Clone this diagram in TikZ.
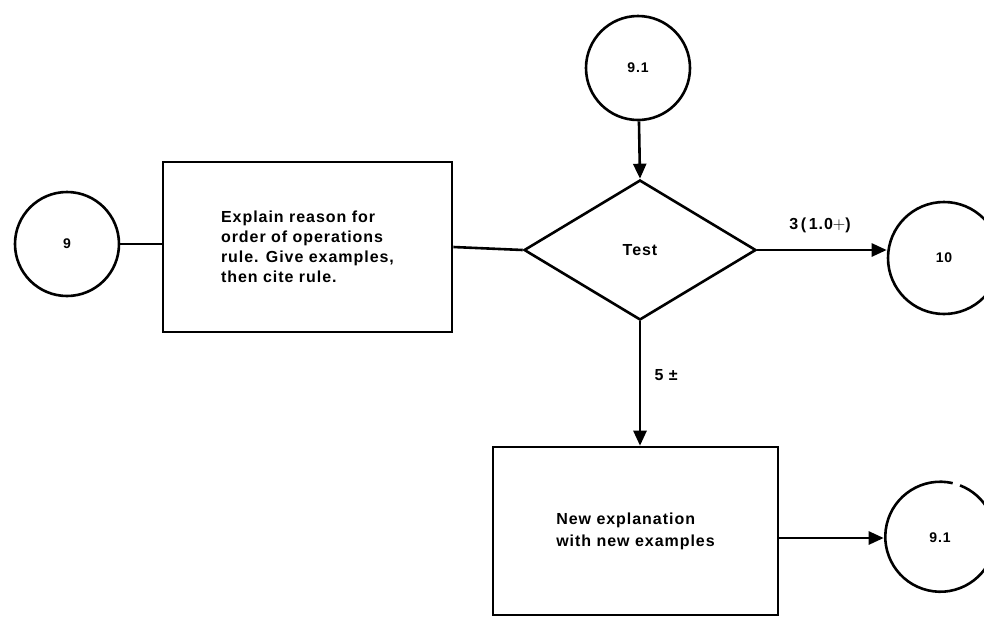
\documentclass[tikz,border=0pt]{standalone}
\usepackage{fontspec}
\setmainfont{Liberation Sans}[LetterSpace=6]
\usetikzlibrary{arrows.meta,shapes.geometric}
\begin{document}
\begin{tikzpicture}[x=1pt,y=-1pt,
  line width=2.6pt,
  txt/.style={font=\bfseries\fontsize{16}{20}\selectfont},
  conn/.style={draw,circle,inner sep=0pt,font=\bfseries\fontsize{14}{16}\selectfont},
  stepbox/.style={draw,rectangle,inner sep=0pt,align=left,font=\bfseries\fontsize{16}{20}\selectfont},
  arr/.style={-{Triangle[length=15pt,width=13pt]}}]
\useasboundingbox (0,0) rectangle (984,619);
\node[conn,minimum size=104pt] (c9) at (67,244) {9};
\node[stepbox,minimum width=289pt,minimum height=170pt] (b1) at (307.5,247)
  {Explain reason for\\order of operations\\rule. Give examples,\\then cite rule.};
\node[draw,diamond,inner sep=0pt,minimum width=232pt,minimum height=140pt,txt] (d) at (640,250) {Test};
\node[conn,minimum size=104pt] (c91t) at (638,68) {9.1};
\node[conn,minimum size=112pt] (c10) at (944,258) {10};
\node[stepbox,minimum width=285pt,minimum height=168pt,font=\bfseries\fontsize{16}{22}\selectfont] (b2) at (635.5,531)
  {New explanation\\with new examples};
\node[circle,inner sep=0pt,minimum size=110pt,font=\bfseries\fontsize{14}{16}\selectfont] (c91b) at (940,538) {9.1};
\draw (c91b.77) arc[start angle=77,end angle=429,radius=55pt];
\node[txt] (l3) at (820,225) {3\,(\,1.0$+$)};
\node[txt,anchor=west] (l5) at (650,375) {5 ±};
\draw (c9) -- (c9 -| b1.west);
\draw (b1.east) -- (d.west);
\draw[arr] (c91t) -- (d.north);
\draw[arr] (d.east) -- (d.east -| c10.west);
\draw[arr] (d.south) -- (d.south |- b2.north);
\draw[arr] (b2.east |- c91b) -- (c91b.west);
\end{tikzpicture}
\end{document}
